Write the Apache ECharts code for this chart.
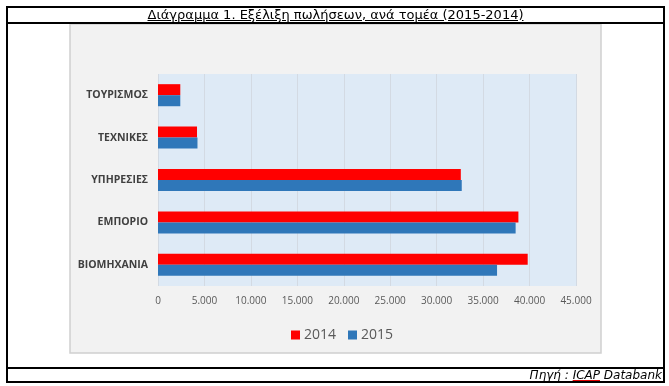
<!DOCTYPE html>
<html>
<head>
<meta charset="utf-8">
<script src="https://cdn.jsdelivr.net/npm/echarts@6/dist/echarts.min.js"></script>
<style>
html,body{margin:0;padding:0;background:#fff;}
#wrap{position:relative;width:669px;height:386px;overflow:hidden;}
#chart{position:absolute;left:0;top:0;width:669px;height:386px;}
.frame{position:absolute;left:6px;top:6px;width:655px;height:373px;border:2px solid #000;pointer-events:none;}
.hline{position:absolute;left:6px;width:659px;height:2px;background:#000;}
#title{position:absolute;left:6px;width:659px;top:6px;text-align:center;font-family:"DejaVu Sans",Verdana,sans-serif;font-size:13px;color:#000;text-decoration:underline;line-height:17px;}
#src{position:absolute;right:7px;top:368px;font-family:"DejaVu Sans",Verdana,sans-serif;font-size:12px;font-style:italic;color:#000;line-height:14px;}
#src .sp{text-decoration:underline;text-decoration-color:#e00000;}
</style>
</head>
<body>
<div id="wrap">
<div id="chart"></div>
<div class="frame"></div>
<div class="hline" style="top:22px"></div>
<div class="hline" style="top:367px"></div>
<div id="title">Διάγραμμα 1. Εξέλιξη πωλήσεων, ανά τομέα (2015-2014)</div>
<div id="src">Πηγή : <span class="sp">ICAP</span> Databank</div>
</div>
<script>
var categories = ["ΒΙΟΜΗΧΑΝΙΑ", "ΕΜΠΟΡΙΟ", "ΥΠΗΡΕΣΙΕΣ", "ΤΕΧΝΙΚΕΣ", "ΤΟΥΡΙΣΜΟΣ"];
var values2014 = [39800, 38800, 32600, 4200, 2400];
var values2015 = [36500, 38500, 32700, 4250, 2400];
var seriesNames = ["2014", "2015"];
var xMin = 0, xMax = 45000, xStep = 5000;

var chart = echarts.init(document.getElementById('chart'), null, {renderer: 'canvas'});
function fmt(v) {
  var s = String(Math.round(v));
  return s.replace(/\B(?=(\d{3})+(?!\d))/g, '.');
}
chart.setOption({
  animation: false,
  graphic: [{
    type: 'rect', z: -10, silent: true,
    shape: {x: 70, y: 24, width: 531, height: 329},
    style: {fill: '#f2f2f2', stroke: '#d0d0d0', lineWidth: 1.5}
  }],
  legend: {
    data: seriesNames,
    left: 286, top: 323,
    itemWidth: 9, itemHeight: 9, itemGap: 12,
    icon: 'rect',
    textStyle: {fontFamily: 'Open Sans', fontSize: 14, color: '#595959', padding: [0, 0, 0, -1]}
  },
  grid: {
    left: 158, top: 74, width: 418, height: 212,
    show: true, backgroundColor: '#deeaf6', borderWidth: 0
  },
  xAxis: {
    type: 'value', min: xMin, max: xMax, interval: xStep,
    axisLine: {show: false}, axisTick: {show: false},
    splitLine: {show: true, lineStyle: {color: '#d3dae3', width: 1}},
    axisLabel: {formatter: fmt, fontFamily: 'Open Sans', fontSize: 10, color: '#595959', margin: 10}
  },
  yAxis: {
    type: 'category', data: categories,
    axisLine: {show: false}, axisTick: {show: false},
    axisLabel: {fontFamily: 'Open Sans', fontWeight: 'bold', fontSize: 10.5, color: '#404040', margin: 10}
  },
  series: [
    {name: '2014', type: 'bar', data: values2014, itemStyle: {color: '#ff0000'}, barGap: '0%', barCategoryGap: '48%'},
    {name: '2015', type: 'bar', data: values2015, itemStyle: {color: '#2f77b9'}, barGap: '0%', barCategoryGap: '48%'}
  ]
});
</script>
</body>
</html>
